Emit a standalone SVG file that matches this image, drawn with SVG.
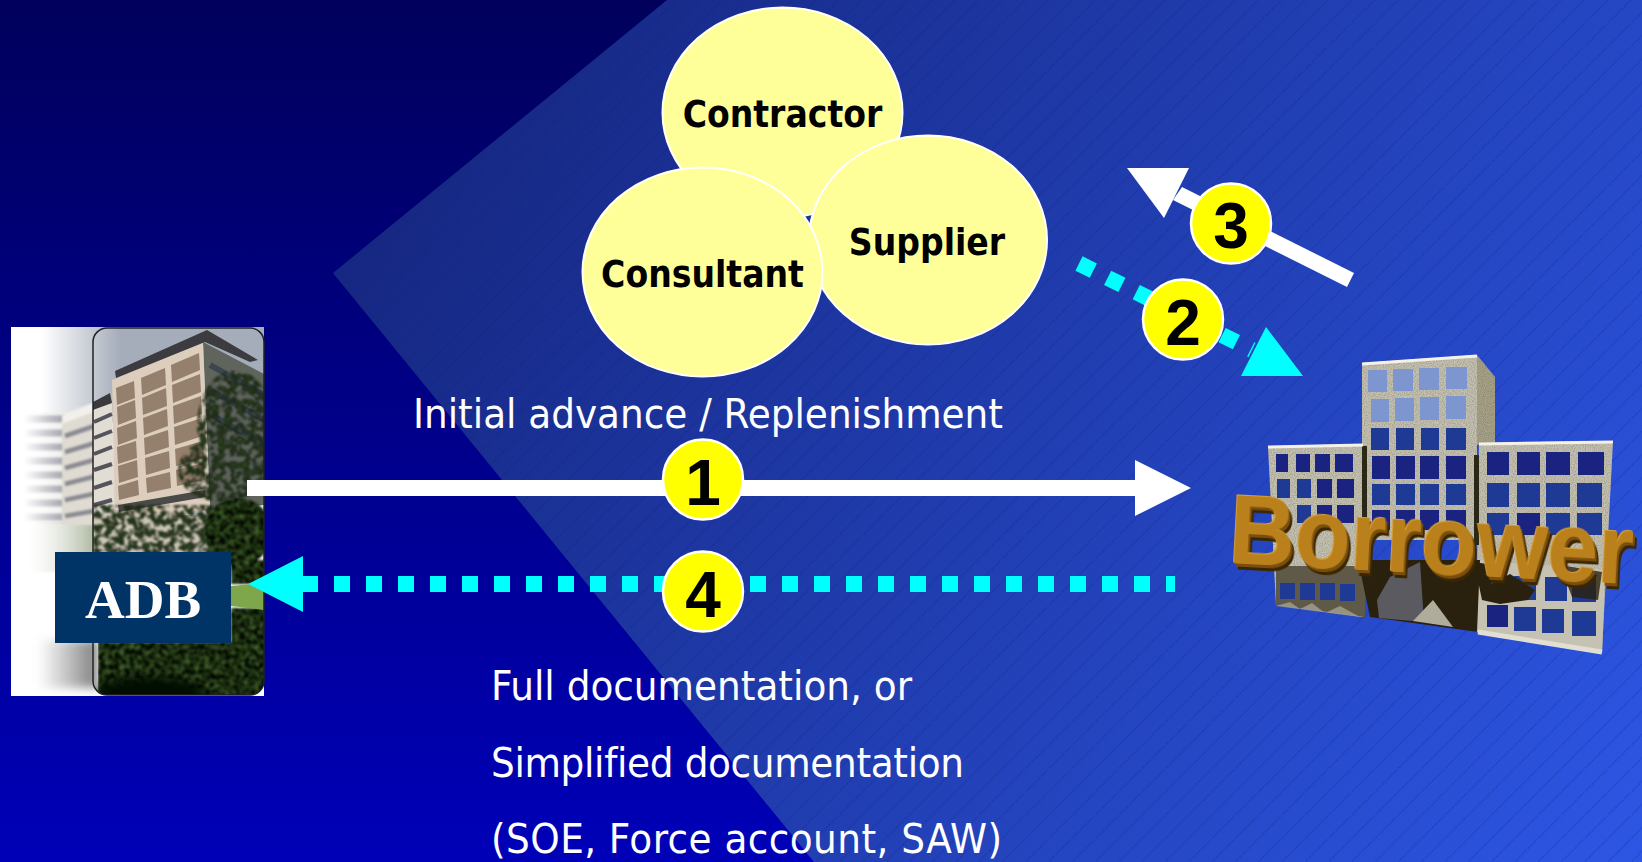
<svg xmlns="http://www.w3.org/2000/svg" width="1642" height="862" viewBox="0 0 1642 862">
<style>
.lab{font-family:"DejaVu Sans",sans-serif;font-stretch:condensed;fill:#fff;font-size:41.6px;font-variant-ligatures:none}
.nm{font-family:"DejaVu Sans",sans-serif;font-stretch:condensed;font-weight:bold;fill:#000;font-size:36.800px;text-anchor:middle}
.num{font-family:"Liberation Sans",Arial,sans-serif;font-weight:bold;fill:#000;font-size:64px;text-anchor:middle}
.ell{fill:#ffff99;stroke:#fff;stroke-width:2}
.badge{fill:#ffff00;stroke:#fff;stroke-width:2.5}
.white{fill:#fff}
.cy{fill:#00ffff}
.dash{stroke:#00ffff;stroke-width:16;stroke-dasharray:16 16;fill:none}
.frame{fill:#c6c2b3}
.wd{fill:#1a2380}
.wl{fill:#7d96cf}
.wm{fill:#1f3a95}
.pn{fill:#94806c}
.rim{stroke:#f4f2e8;stroke-width:3;fill:none}
</style>
<defs>
<linearGradient id="bgL" x1="0" y1="0" x2="0" y2="1"><stop offset="0" stop-color="#00005c"/><stop offset="1" stop-color="#0000b8"/></linearGradient>
<linearGradient id="bgP" gradientUnits="userSpaceOnUse" x1="400" y1="100" x2="1642" y2="862"><stop offset="0" stop-color="#15267f"/><stop offset="1" stop-color="#2d56e4"/></linearGradient>
<pattern id="hatch" patternUnits="userSpaceOnUse" width="23.3" height="23.3"><path d="M-2 25.3L25.3 -2" stroke="#0c1a80" stroke-width="1" stroke-opacity=".55" stroke-dasharray="1 1" fill="none"/></pattern>
<linearGradient id="sky" gradientUnits="userSpaceOnUse" x1="42" y1="0" x2="120" y2="0"><stop offset="0" stop-color="#fff"/><stop offset="1" stop-color="#a6adba"/></linearGradient>
<linearGradient id="ghost" gradientUnits="userSpaceOnUse" x1="24" y1="0" x2="70" y2="0"><stop offset="0" stop-color="#9a9aa6" stop-opacity="0"/><stop offset="1" stop-color="#9a9aa6"/></linearGradient>
<linearGradient id="ghost2" gradientUnits="userSpaceOnUse" x1="24" y1="0" x2="70" y2="0"><stop offset="0" stop-color="#fff" stop-opacity="0"/><stop offset="1" stop-color="#e8e6e2"/></linearGradient>
<linearGradient id="green" gradientUnits="userSpaceOnUse" x1="30" y1="0" x2="110" y2="0"><stop offset="0" stop-color="#d8dcd0" stop-opacity="0"/><stop offset="1" stop-color="#8a9a78"/></linearGradient>
<linearGradient id="shadowL" gradientUnits="userSpaceOnUse" x1="38" y1="0" x2="100" y2="0"><stop offset="0" stop-color="#888" stop-opacity="0"/><stop offset="1" stop-color="#777"/></linearGradient>
<filter id="bs" x="-10%" y="-10%" width="120%" height="120%"><feGaussianBlur stdDeviation="1"/></filter>
<filter id="bt" x="-20%" y="-20%" width="140%" height="140%"><feGaussianBlur stdDeviation="5"/></filter>
<filter id="fol" x="0" y="0" width="100%" height="100%" color-interpolation-filters="sRGB">
<feTurbulence type="fractalNoise" baseFrequency=".2" numOctaves="3" seed="7"/>
<feColorMatrix type="matrix" values=".55 0 0 0 -.17 .75 0 0 0 -.2 .4 0 0 0 -.14 0 0 0 0 1" result="c"/>
<feComposite in="c" in2="SourceAlpha" operator="in"/>
<feGaussianBlur stdDeviation="1"/>
</filter>
<filter id="folA" x="0" y="0" width="100%" height="100%" color-interpolation-filters="sRGB">
<feTurbulence type="fractalNoise" baseFrequency=".16" numOctaves="3" seed="11"/>
<feColorMatrix type="matrix" values=".35 0 0 0 -.1 .5 0 0 0 -.13 .28 0 0 0 -.09 5 0 0 0 -1.9" result="c"/>
<feComposite in="c" in2="SourceAlpha" operator="in"/>
<feGaussianBlur stdDeviation=".8"/>
</filter>
<filter id="extr" x="-5%" y="-10%" width="110%" height="130%">
<feOffset in="SourceAlpha" dx="2" dy="3" result="a"/><feOffset in="SourceAlpha" dx="4" dy="6" result="b"/>
<feFlood flood-color="#3a2606"/><feComposite in2="b" operator="in" result="c"/>
<feFlood flood-color="#7a4f10"/><feComposite in2="a" operator="in" result="d"/>
<feOffset in="SourceAlpha" dx="-1" dy="-1" result="e"/>
<feFlood flood-color="#d8a038"/><feComposite in2="e" operator="in" result="f"/>
<feMerge><feMergeNode in="c"/><feMergeNode in="d"/><feMergeNode in="f"/><feMergeNode in="SourceGraphic"/></feMerge>
</filter>
<filter id="grain" x="0" y="0" width="100%" height="100%">
<feTurbulence type="fractalNoise" baseFrequency=".9" numOctaves="1" seed="3" result="n"/>
<feColorMatrix in="n" type="matrix" values="0 0 0 0 .1 0 0 0 0 .1 0 0 0 0 .05 1.1 0 0 0 -.4" result="m"/>
<feComposite in="m" in2="SourceAlpha" operator="in" result="k"/>
<feMerge><feMergeNode in="SourceGraphic"/><feMergeNode in="k"/></feMerge>
</filter>
<clipPath id="pc"><rect x="93" y="328" width="171" height="367" rx="14"/></clipPath>
<clipPath id="out"><rect x="11" y="327" width="253" height="369"/></clipPath>
</defs>

<g id="background">
<rect width="1642" height="862" fill="url(#bgL)"/>
<polygon points="667,0 1642,0 1642,862 814,862 333,273" fill="url(#bgP)"/>
<polygon points="667,0 1642,0 1642,862 814,862 333,273" fill="url(#hatch)"/>
</g>

<g id="adb">
<rect x="11" y="327" width="253" height="369" fill="#fff"/>
<g clip-path="url(#out)">
<rect x="42" y="327" width="222" height="95" fill="url(#sky)"/>
<rect x="24" y="412" width="46" height="112" fill="url(#ghost2)"/>
<path d="M24 419H66M24 433H66M24 447H66M24 461H66M24 475H66M24 489H66M24 503H66M24 517H66" stroke="url(#ghost)" stroke-width="7" fill="none" filter="url(#bs)"/>
<rect x="30" y="522" width="80" height="50" fill="url(#green)" filter="url(#bs)"/>
<rect x="38" y="640" width="60" height="48" fill="url(#shadowL)" filter="url(#bt)"/>
<polygon points="62,422 110,403 116,525 62,525" fill="#dfdbd2" filter="url(#bs)"/>
<polygon points="62,415 110,396 110,406 62,424" fill="#f2f0ea" filter="url(#bs)"/>
<path d="M65 436L112 420M65 452L112 438M65 468L112 455M65 484L112 472M65 500L112 490M65 516L112 508" stroke="#8a8a92" stroke-width="4.500" filter="url(#bs)"/>
</g>
<g clip-path="url(#pc)">
<polygon points="93,410 112,402 116,525 93,525" fill="#e2ddd4"/>
<path d="M94 422L112 414M94 438L112 431M94 454L112 447M94 470L112 464M94 488L112 482M94 505L112 500" stroke="#55535c" stroke-width="4"/>
<polygon points="93,402 110,393 112,403 93,410" fill="#3a3a3e"/>
<polygon points="203,342 264,374 264,505 210,510" fill="#5f645c"/>
<path d="M210 365L264 395M210 390L264 420M212 415L264 445" stroke="#3c4650" stroke-width="6"/>
<polygon points="112,380 203,342 210,510 115,525" fill="#dccdbc"/>
<polygon points="116,388 134,381 135,398 117,405" class="pn"/>
<polygon points="141,378 165,368 166,385 142,395" class="pn"/>
<polygon points="171,365 199,353 200,370 172,382" class="pn"/>
<polygon points="117,407 135,400 136,418 118,425" class="pn"/>
<polygon points="142,398 166,388 167,406 143,415" class="pn"/>
<polygon points="172,385 200,374 201,392 173,403" class="pn"/>
<polygon points="117,428 136,421 137,438 118,445" class="pn"/>
<polygon points="143,418 167,409 168,426 144,435" class="pn"/>
<polygon points="173,406 201,396 202,414 174,424" class="pn"/>
<polygon points="117,447 136,441 137,458 118,464" class="pn"/>
<polygon points="144,438 168,430 169,447 145,455" class="pn"/>
<polygon points="174,427 202,418 203,436 175,445" class="pn"/>
<polygon points="118,466 137,460 138,477 119,483" class="pn"/>
<polygon points="145,458 169,451 170,468 146,475" class="pn"/>
<polygon points="175,449 203,441 204,458 176,466" class="pn"/>
<polygon points="118,486 138,480 139,495 119,500" class="pn"/>
<polygon points="146,478 170,472 171,488 147,493" class="pn"/>
<polygon points="176,470 204,463 205,480 177,486" class="pn"/>
<polygon points="118,505 205,490 206,497 119,512" fill="#4a4a48"/>
<polygon points="115,371 207,330 258,360 250,362 205,342 116,378" fill="#3c3c40"/>
<rect x="93" y="515" width="140" height="40" fill="#cfc8b8"/>
<g filter="url(#folA)">
<ellipse cx="235" cy="425" rx="38" ry="55"/>
<ellipse cx="222" cy="470" rx="44" ry="32"/>
<rect x="93" y="505" width="140" height="50"/>
</g>
<g filter="url(#fol)">
<ellipse cx="238" cy="532" rx="34" ry="34"/>
<rect x="231" y="560" width="40" height="24"/>
<rect x="98" y="642" width="170" height="58"/>
<rect x="231" y="608" width="40" height="40"/>
</g>
<polygon points="231,586 264,583 264,610 231,606" fill="#7ea64a"/>
<ellipse cx="150" cy="695" rx="55" ry="18" fill="#050805" filter="url(#bt)"/>
</g>
<rect x="93" y="328" width="171" height="367" rx="14" fill="none" stroke="#222" stroke-width="1.500"/>
<rect x="55" y="552" width="176" height="91" fill="#003366"/>
<text x="143" y="617.500" text-anchor="middle" font-family="'Liberation Serif',serif" font-weight="bold" font-size="55" fill="#fff">ADB</text>
</g>

<g id="borrower">
<g filter="url(#grain)">
<polygon points="1477,355 1495,377 1495,445 1477,445" fill="#a8a389"/>
<polygon points="1362,363 1477,355 1477,540 1362,540" class="frame"/>
<polygon points="1268,446 1363,444 1363,617 1276,605" class="frame"/>
<polygon points="1479,443 1613,441 1602,652 1476,632" class="frame"/>
</g>
<rect x="1362" y="446" width="5" height="90" fill="#2c2818"/>
<rect x="1474" y="455" width="5" height="90" fill="#2c2818"/>
<path d="M1362 364L1477 356M1268 447L1363 445M1479 444L1613 442" class="rim"/>
<g id="tower-windows">
<rect x="1368" y="370" width="19" height="22" class="wl"/><rect x="1393" y="369" width="20" height="22" class="wl"/><rect x="1419" y="368" width="20" height="22" class="wl"/><rect x="1446" y="367" width="21" height="22" class="wl"/>
<rect x="1371" y="399" width="18" height="23" class="wl"/><rect x="1395" y="398" width="19" height="23" class="wl"/><rect x="1420" y="397" width="19" height="23" class="wl"/><rect x="1446" y="396" width="20" height="23" class="wl"/>
<rect x="1371" y="428" width="18" height="22" class="wm"/><rect x="1396" y="428" width="18" height="22" class="wm"/><rect x="1421" y="428" width="18" height="22" class="wm"/><rect x="1446" y="428" width="20" height="22" class="wm"/>
<rect x="1372" y="456" width="18" height="23" class="wd"/><rect x="1396" y="456" width="19" height="23" class="wd"/><rect x="1420" y="456" width="19" height="23" class="wd"/><rect x="1446" y="456" width="20" height="23" class="wd"/>
<rect x="1372" y="484" width="18" height="21" class="wm"/><rect x="1396" y="484" width="19" height="21" class="wm"/><rect x="1420" y="484" width="19" height="21" class="wm"/><rect x="1446" y="484" width="20" height="21" class="wm"/>
<rect x="1372" y="510" width="18" height="20" class="wd"/><rect x="1396" y="510" width="19" height="20" class="wd"/><rect x="1420" y="510" width="19" height="20" class="wd"/><rect x="1446" y="510" width="20" height="20" class="wd"/>
</g>
<g id="left-windows">
<rect x="1276" y="454" width="12" height="18" class="wd"/><rect x="1296" y="454" width="14" height="18" class="wd"/><rect x="1315" y="454" width="15" height="18" class="wd"/><rect x="1335" y="454" width="18" height="18" class="wd"/>
<rect x="1277" y="479" width="13" height="19" class="wm"/><rect x="1297" y="479" width="14" height="19" class="wm"/><rect x="1317" y="479" width="15" height="19" class="wd"/><rect x="1337" y="479" width="17" height="19" class="wd"/>
<rect x="1297" y="505" width="14" height="18" class="wm"/><rect x="1317" y="505" width="15" height="18" class="wd"/><rect x="1337" y="505" width="17" height="18" class="wd"/>
</g>
<g id="right-windows">
<rect x="1487" y="452" width="22" height="23" class="wd"/><rect x="1517" y="452" width="23" height="23" class="wd"/><rect x="1546" y="452" width="24" height="23" class="wd"/><rect x="1578" y="452" width="26" height="23" class="wd"/>
<rect x="1487" y="483" width="22" height="24" class="wm"/><rect x="1517" y="483" width="23" height="24" class="wm"/><rect x="1546" y="483" width="24" height="24" class="wm"/><rect x="1577" y="483" width="25" height="24" class="wm"/>
<rect x="1487" y="513" width="22" height="22" class="wm"/><rect x="1517" y="513" width="23" height="22" class="wd"/><rect x="1546" y="513" width="24" height="22" class="wm"/><rect x="1577" y="513" width="25" height="22" class="wm"/>
</g>
<g id="base">
<polygon points="1276,566 1365,566 1365,617 1276,605" fill="#5f5a48"/>
<rect x="1280" y="583" width="15" height="16" class="wm"/><rect x="1300" y="583" width="15" height="17" class="wm"/><rect x="1320" y="583" width="15" height="17" class="wm"/><rect x="1340" y="584" width="15" height="17" class="wm"/>
<polygon points="1276,606 1290,602 1300,609 1312,603 1325,613 1340,606 1360,617" fill="#a5a190" opacity=".8"/>
<polygon points="1358,560 1480,560 1478,632 1370,617" fill="#2a200e"/>
<polygon points="1379,618 1377,600 1390,577 1420,562 1424,622" fill="#5a5a60"/>
<polygon points="1413,621 1433,600 1453,627" fill="#b0ac9c"/>
<polygon points="1480,560 1605,570 1602,652 1477,632" fill="#c6c2b3"/>
<rect x="1487" y="575" width="20" height="24" class="wm"/><rect x="1514" y="576" width="22" height="24" class="wm"/><rect x="1545" y="577" width="22" height="24" class="wm"/><rect x="1572" y="578" width="24" height="24" class="wm"/>
<rect x="1487" y="605" width="21" height="22" class="wd"/><rect x="1514" y="607" width="22" height="24" class="wm"/><rect x="1542" y="609" width="22" height="24" class="wm"/><rect x="1572" y="611" width="24" height="25" class="wm"/>
<polygon points="1474,562 1500,566 1490,585 1510,574 1535,590 1528,600 1500,604 1482,600" fill="#2a200e"/>
<polygon points="1560,565 1602,572 1598,600 1572,597" fill="#2a200e" opacity=".8"/>
<path d="M1478 632L1602 652" stroke="#e2dfd2" stroke-width="5"/>
</g>
<text transform="translate(1228 563) rotate(3) scale(1 1.08)" x="0" y="0" font-family="'Liberation Sans',sans-serif" font-weight="bold" font-size="91" fill="#b9801f" filter="url(#extr)">Borrower</text>
</g>

<g id="connectors">
<g id="arrow-1"><rect x="247" y="480" width="890" height="16" class="white"/><polygon points="1135,460 1191,488 1135,516" class="white"/></g>
<g id="arrow-4"><path d="M302 584H1175" class="dash"/><polygon points="248,584 303,556 303,612" class="cy"/></g>
<g id="arrow-3"><polygon points="1354,273 1347,287 1173,200 1182,187" class="white"/><polygon points="1127,168 1189,168 1164,218" class="white"/></g>
<g id="arrow-2"><path d="M1079 263.500L1252 350" class="dash"/><polygon points="1266,327 1303,376 1241,376" class="cy"/></g>
</g>

<g id="contractor"><ellipse cx="782.500" cy="112.500" rx="120" ry="105" class="ell"/><text x="782.500" y="127" class="nm">Contractor</text></g>
<g id="supplier"><ellipse cx="928" cy="240" rx="119" ry="104.500" class="ell"/><text x="927" y="255" class="nm">Supplier</text></g>
<g id="consultant"><ellipse cx="702.500" cy="272" rx="120" ry="104.500" class="ell"/><text x="702.500" y="287" class="nm">Consultant</text></g>

<text x="413" y="428" class="lab" textLength="590">Initial advance / Replenishment</text>
<text x="491" y="700" class="lab" textLength="421">Full documentation, or</text>
<text x="491" y="777" class="lab" textLength="473">Simplified documentation</text>
<text x="491" y="853" class="lab" textLength="511">(SOE, Force account, SAW)</text>

<g id="badge-1"><circle cx="703" cy="479.500" r="40" class="badge"/><text x="703" y="505" class="num">1</text></g>
<g id="badge-4"><circle cx="703" cy="591.500" r="40" class="badge"/><text x="703" y="617" class="num">4</text></g>
<g id="badge-3"><circle cx="1231" cy="223.500" r="40" class="badge"/><text x="1231" y="248" class="num">3</text></g>
<g id="badge-2"><circle cx="1183" cy="319.500" r="40" class="badge"/><text x="1183" y="345" class="num">2</text></g>
</svg>
